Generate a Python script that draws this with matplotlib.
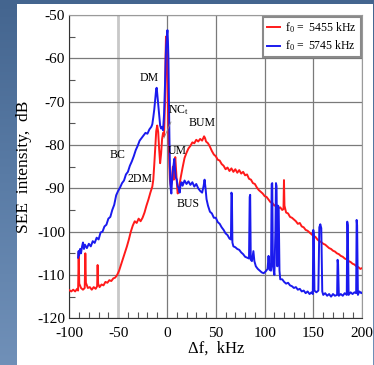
import numpy as np
import matplotlib
matplotlib.use("Agg")
import matplotlib.pyplot as plt
from matplotlib.patches import Rectangle
from matplotlib.ticker import MultipleLocator
from matplotlib.colors import LinearSegmentedColormap

# ---- spectra (frequency offset in kHz, intensity in dB) ----
blue_df = [-91.0, -90.5, -90.0, -89.0, -88.0, -87.0, -86.0, -85.0, -84.0, -82.0,
           -80.0, -78.0, -76.0, -74.0, -72.0, -70.0, -68.0, -66.0, -64.0, -62.0,
           -60.0, -58.0, -56.0, -54.0, -52.0, -50.0, -48.0, -46.0, -44.0, -42.0,
           -40.0, -38.0, -36.0, -34.0, -32.0, -30.0, -28.0, -26.0, -24.0, -22.0,
           -20.0, -18.0, -16.0, -15.0, -14.0, -13.0, -12.0, -11.0, -10.5, -10.0,
           -9.0, -8.0, -7.0, -6.0, -5.0, -4.0, -3.0, -2.0, -1.0, 0.0,
           0.5, 1.0, 1.5, 2.0, 2.5, 3.0, 3.5, 4.0, 4.5, 5.0,
           6.0, 7.0, 7.5, 8.0, 9.0, 10.0, 11.0, 12.0, 13.0, 14.0,
           15.0, 16.0, 18.0, 20.0, 22.0, 24.0, 26.0, 28.0, 30.0, 32.0,
           34.0, 36.0, 37.5, 38.5, 39.5, 40.5, 42.0, 44.0, 46.0, 48.0,
           50.0, 52.0, 54.0, 56.0, 58.0, 60.0, 62.0, 64.0, 65.5, 66.0,
           66.5, 67.0, 68.0, 70.0, 72.0, 74.0, 76.0, 78.0, 80.0, 82.0,
           84.0, 84.7, 85.2, 85.8, 87.0, 88.5, 89.5, 91.0, 93.0, 95.0,
           97.0, 99.0, 101.0, 103.0, 104.0, 105.0, 106.5, 107.2, 107.8, 108.5,
           110.0, 111.0, 111.6, 112.2, 113.0, 113.8, 114.4, 115.2, 116.0, 118.0,
           120.0, 122.0, 124.0, 126.0, 128.0, 130.0, 132.0, 134.0, 136.0, 138.0,
           140.0, 142.0, 144.0, 146.0, 148.0, 149.3, 149.8, 150.3, 151.0, 153.0,
           155.0, 156.0, 157.0, 158.0, 159.0, 160.0, 162.0, 164.0, 166.0, 168.0,
           170.0, 172.0, 174.2, 174.7, 175.2, 176.0, 178.0, 180.0, 182.0, 184.1,
           184.6, 185.1, 186.0, 188.0, 190.0, 192.0, 193.7, 194.2, 194.7, 195.5,
           197.0, 199.0, 200.0]
blue_db = [-106.0, -104.5, -105.5, -104.0, -105.0, -103.5, -102.5, -104.0, -103.0, -103.8,
           -102.8, -103.4, -102.2, -102.6, -101.4, -101.8, -100.2, -100.0, -98.8, -98.4,
           -97.0, -96.6, -95.0, -93.8, -91.6, -90.6, -89.8, -88.8, -88.2, -86.8,
           -86.2, -84.8, -83.8, -82.6, -81.2, -80.2, -79.0, -78.4, -77.8, -77.2,
           -77.4, -76.4, -75.8, -75.2, -73.6, -71.8, -69.5, -67.0, -66.8, -68.0,
           -70.5, -73.0, -75.5, -76.2, -75.8, -76.6, -73.0, -66.0, -58.0, -54.5,
           -53.5, -56.0, -60.0, -70.0, -78.0, -85.0, -89.0, -90.5, -91.2, -89.0,
           -86.0, -84.0, -83.2, -85.0, -87.5, -88.0, -89.5, -90.0, -91.0, -89.0,
           -88.6, -89.4, -88.2, -89.0, -88.4, -89.2, -88.6, -89.6, -89.0, -90.0,
           -90.6, -91.0, -89.5, -88.0, -90.0, -92.5, -94.0, -95.4, -95.8, -96.8,
           -96.8, -97.8, -98.2, -99.0, -99.6, -100.4, -100.8, -101.6, -101.8, -91.0,
           -91.5, -102.5, -103.4, -103.6, -104.0, -104.2, -104.8, -105.2, -105.8, -106.0,
           -106.2, -92.0, -91.5, -106.5, -106.8, -104.5, -106.8, -108.0, -108.6, -109.0,
           -109.4, -109.6, -109.2, -108.6, -105.6, -108.8, -109.0, -89.0, -88.8, -108.0,
           -110.0, -100.0, -88.8, -89.5, -108.0, -94.0, -94.5, -109.0, -111.0, -111.0,
           -111.6, -112.0, -111.8, -112.4, -112.6, -113.0, -112.8, -113.4, -113.2, -113.8,
           -113.6, -114.2, -113.8, -114.4, -114.0, -114.4, -99.6, -100.5, -113.6, -114.0,
           -113.6, -99.0, -98.3, -99.2, -113.8, -114.6, -114.2, -114.8, -114.4, -115.0,
           -114.4, -114.8, -114.6, -106.5, -107.5, -114.8, -114.4, -114.8, -114.2, -114.6,
           -97.7, -98.5, -114.6, -114.0, -114.4, -114.0, -114.2, -97.3, -98.5, -114.6,
           -113.8, -114.2, -114.0]

red_df = [-100.0, -98.0, -96.0, -94.0, -92.0, -91.0, -90.4, -89.8, -88.0, -86.0,
          -84.2, -83.6, -83.0, -81.0, -79.0, -77.0, -75.0, -73.0, -71.5, -71.0,
          -70.5, -69.0, -67.0, -65.0, -63.0, -61.0, -59.0, -57.0, -55.0, -53.0,
          -51.0, -49.0, -47.0, -45.0, -43.0, -41.0, -39.0, -37.0, -35.0, -33.0,
          -31.0, -29.0, -27.0, -25.0, -23.0, -21.0, -19.0, -17.0, -15.0, -14.0,
          -13.0, -12.0, -11.0, -10.0, -9.0, -8.0, -7.0, -6.0, -5.0, -4.0,
          -3.0, -2.0, -1.5, -1.0, -0.5, 0.0, 0.5, 1.0, 1.5, 2.0,
          2.5, 3.0, 4.0, 5.0, 6.0, 7.0, 8.0, 8.5, 9.5, 10.5,
          11.0, 12.0, 13.0, 14.0, 15.0, 16.0, 18.0, 20.0, 22.0, 24.0,
          26.0, 28.0, 30.0, 32.0, 34.0, 36.0, 38.0, 39.0, 40.0, 42.0,
          44.0, 46.0, 48.0, 50.0, 52.0, 54.0, 56.0, 58.0, 60.0, 62.0,
          64.0, 66.0, 68.0, 70.0, 72.0, 74.0, 76.0, 78.0, 80.0, 82.0,
          84.0, 86.0, 88.0, 90.0, 92.0, 94.0, 96.0, 98.0, 100.0, 102.0,
          104.0, 106.0, 108.0, 110.0, 112.0, 114.0, 116.0, 118.0, 119.3, 119.8,
          120.3, 122.0, 124.0, 126.0, 128.0, 130.0, 132.0, 134.0, 136.0, 138.0,
          140.0, 142.0, 144.0, 146.0, 148.0, 150.0, 152.0, 154.0, 156.0, 158.0,
          160.0, 162.0, 164.0, 166.0, 168.0, 170.0, 172.0, 174.0, 176.0, 178.0,
          180.0, 182.0, 184.0, 186.0, 188.0, 190.0, 192.0, 194.0, 196.0, 198.0,
          200.0]
red_db = [-113.5, -113.8, -113.4, -113.8, -113.2, -113.6, -105.0, -112.0, -113.0, -113.4,
          -113.0, -105.0, -111.8, -113.0, -112.8, -113.4, -112.8, -113.2, -112.6, -107.7,
          -112.0, -112.8, -112.2, -112.4, -111.6, -111.8, -111.2, -111.4, -110.8, -110.6,
          -110.0, -109.0, -107.6, -106.2, -104.8, -103.4, -101.8, -100.0, -98.6, -97.6,
          -98.0, -97.0, -97.6, -96.8, -95.6, -94.0, -92.6, -91.0, -89.6, -88.0,
          -84.5, -80.5, -76.8, -75.5, -77.0, -81.0, -84.2, -82.0, -78.6, -77.2,
          -78.0, -70.0, -60.0, -55.0, -56.5, -60.0, -66.0, -72.0, -77.0, -81.0,
          -85.0, -88.0, -89.6, -88.0, -85.0, -88.0, -84.0, -82.8, -86.5, -90.0,
          -91.2, -90.0, -89.0, -87.6, -86.4, -85.2, -83.0, -81.8, -80.8, -80.2,
          -79.4, -79.6, -78.8, -79.2, -78.6, -79.0, -78.0, -78.4, -79.2, -79.6,
          -80.4, -81.4, -82.2, -82.6, -83.4, -83.6, -84.4, -84.8, -85.6, -85.2,
          -86.0, -85.4, -86.2, -85.6, -86.4, -85.8, -86.6, -86.2, -87.0, -86.8,
          -87.8, -88.0, -88.8, -89.0, -89.8, -90.4, -90.8, -91.2, -91.8, -92.0,
          -92.6, -93.2, -93.4, -94.0, -93.8, -94.6, -94.4, -95.0, -94.8, -88.1,
          -94.0, -95.6, -95.8, -96.6, -96.8, -97.2, -97.6, -98.2, -98.0, -98.8,
          -99.0, -99.6, -99.8, -100.2, -100.6, -101.0, -101.2, -101.8, -102.2, -102.4,
          -102.8, -103.0, -103.4, -103.8, -104.0, -104.4, -104.6, -105.0, -105.2, -105.6,
          -105.8, -106.2, -106.4, -106.8, -107.0, -107.4, -107.6, -108.0, -108.2, -108.6,
          -108.4]

series_labels = ["f$_0$ =  5455 kHz", "f$_0$ =  5745 kHz"]

# feature labels: (text, x, y)
feature_labels = [("DM", -18.4, -64.5), ("BC", -51.0, -82.3), ("2DM", -27.6, -87.9),
                  ("UM", 10.4, -81.4), ("BUM", 35.8, -74.9), ("BUS", 21.4, -93.6)]

plt.rcParams["font.family"] = ["Liberation Serif", "DejaVu Serif"]
plt.rcParams["mathtext.fontset"] = "custom"
plt.rcParams["mathtext.rm"] = "Liberation Serif"
plt.rcParams["mathtext.it"] = "Liberation Serif"
plt.rcParams["axes.unicode_minus"] = False

W, H = 374, 365
fig = plt.figure(figsize=(W / 100, H / 100), dpi=100)

# slide background: blue gradient with a white panel
bg = fig.add_axes([0, 0, 1, 1], zorder=-10)
grad = np.linspace(0, 1, 256).reshape(-1, 1)
cmap = LinearSegmentedColormap.from_list("slide", ["#44658f", "#5a7ca6", "#7090b8"])
bg.imshow(grad, aspect="auto", cmap=cmap, extent=[0, 1, 0, 1], origin="upper")
bg.add_patch(Rectangle((17 / W, 0), (373 - 17) / W, (H - 4) / H,
                       facecolor="white", edgecolor="none", transform=bg.transAxes))
bg.set_xlim(0, 1)
bg.set_ylim(0, 1)
bg.axis("off")

ax = fig.add_axes([69.3 / W, 1 - 318.3 / H, (362.3 - 69.3) / W, (318.3 - 15) / H])
ax.set_facecolor("white")

ax.plot(red_df, red_db, color="#ff1a1a", lw=1.4, label=series_labels[0], zorder=3)
ax.plot(blue_df, blue_db, color="#1a1aee", lw=1.4, label=series_labels[1], zorder=4)

ax.set_xlim(-100, 200)
ax.set_ylim(-120, -50)
ax.xaxis.set_major_locator(MultipleLocator(50))
ax.xaxis.set_minor_locator(MultipleLocator(10))
ax.yaxis.set_major_locator(MultipleLocator(10))
ax.yaxis.set_minor_locator(MultipleLocator(5))
ax.tick_params(which="major", direction="in", length=0, labelsize=11)
ax.tick_params(axis="x", which="major", pad=6)
ax.tick_params(axis="y", which="major", pad=3)
ax.tick_params(which="minor", direction="in", length=4, width=0.8, color="#555555")
ax.grid(True, which="major", color="#7a7a7a", lw=0.9, zorder=1)
for gl, val in zip(ax.get_xgridlines(), ax.get_xticks()):
    if val == -50:
        gl.set_color("#c8c8c8")
        gl.set_linewidth(2.0)
for s in ("top", "right"):
    ax.spines[s].set_color("#9a9a9a")
for s in ("left", "bottom"):
    ax.spines[s].set_color("#333333")

ax.set_xlabel("\u0394f,  kHz", fontsize=12, labelpad=1)
ax.set_ylabel("SEE  intensity,  dB", fontsize=12.5, labelpad=4)

for txt, x, y in feature_labels:
    ax.text(x, y, txt, fontsize=8.5, ha="center", va="center", zorder=6)
ax.text(11.5, -71.9, "NC$_\\mathrm{t}$", fontsize=8.5, ha="center", va="center", zorder=6)
ax.plot([4.1, -3.1], [-74.7, -78.4], color="#888888", lw=0.6, zorder=5)

leg = ax.legend(loc="upper right", fontsize=8.5, handlelength=1.1, handletextpad=0.5,
                borderaxespad=0.15, fancybox=False, framealpha=1, borderpad=0.3,
                labelspacing=0.3)
leg.get_frame().set_edgecolor("#8a8a8a")
leg.get_frame().set_linewidth(1.5)

fig.savefig("out.png", dpi=100)
